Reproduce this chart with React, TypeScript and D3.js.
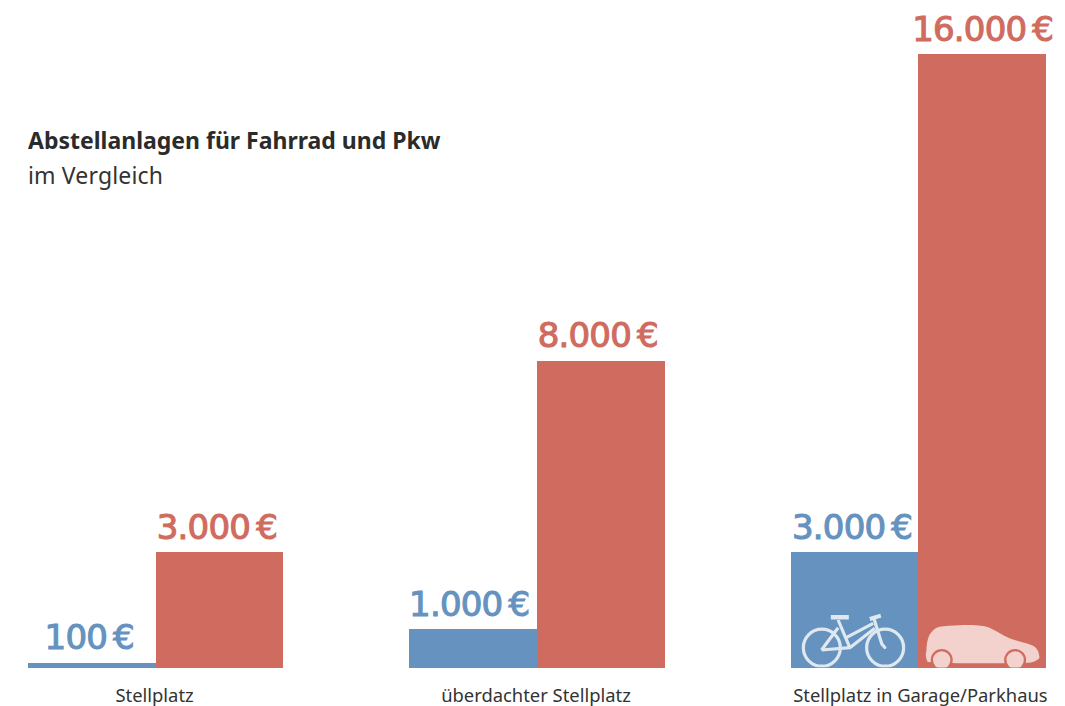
import React from 'react';
import * as d3 from 'd3';

const categories = ['Stellplatz', 'überdachter Stellplatz', 'Stellplatz in Garage/Parkhaus'];
const series = ['Fahrrad', 'Pkw'];
const fahrradValues = [100, 1000, 3000];
const pkwValues = [3000, 8000, 16000];
const title = 'Abstellanlagen für Fahrrad und Pkw';
const subtitle = 'im Vergleich';

const width = 1065;
const height = 706;
const baseline = 667.5;
const colors = { Fahrrad: '#6692bf', Pkw: '#d06b60' };
const font = '"Noto Sans", sans-serif';
const valueFont = '"DejaVu Sans", sans-serif';
const labelNudge = [-1, -1, 2];
const valueNudge = { Fahrrad: [-2.5, -4, -2.5], Pkw: [-2.5, -3, 0.5] };

const x0 = d3.scaleBand().domain(categories).range([28, 1046]).paddingInner(0.331);
const x1 = d3.scaleBand().domain(series).range([0, x0.bandwidth()]);
const y = d3.scaleLinear().domain([0, 16000]).range([baseline, 54]);

const fmt = (v: number) => d3.format(',')(v).replace(/,/g, '.');

const Bike = ({ x }: { x: number }) => (
  <g transform={`translate(${x},0)`} fill="none" stroke="#dde8f1" strokeWidth={3.2} clipPath="url(#ground)">
    <circle cx={31} cy={647.7} r={18.5} />
    <circle cx={94.3} cy={647.7} r={18.5} />
    <path d="M30.7 650 L47.3 627.7 M30.7 650 L59 647.7 M47.3 620 L59 647.7 L84 628.3 M54 638.3 L82.3 623.3" strokeLinejoin="round" />
    <path d="M83 618.3 L91 644 L94 647.5" strokeLinecap="round" strokeLinejoin="round" />
    <path d="M40 617.3 H58" strokeWidth={4.5} />
    <path d="M79 619 L90 615.7" strokeWidth={4} />
  </g>
);

const Car = ({ x }: { x: number }) => (
  <g transform={`translate(${x},0)`} clipPath="url(#ground)">
    <path
      d="M9.3 662 C7 657 7 654 8 651 C8 645 9 639 11 635 C14 630 18 627 23 626.5 C33 625.5 42 625 51 625 C60 625 66 626 71 627.7 C78 631 84 635 91 638.3 C97 640.5 103 642 108 643.3 C113 645 116 646 118 648.5 C120 651 121 655 121 658.3 C118 661 114 662.5 111 662.8 L80 663.3 L40 663.3 Z"
      fill="#f3d2ce"
    />
    <circle cx={23.3} cy={660} r={11} fill="#d06b60" />
    <circle cx={96.7} cy={660} r={11} fill="#d06b60" />
    <circle cx={23.3} cy={660} r={8.7} fill="#f3d2ce" />
    <circle cx={96.7} cy={660} r={8.7} fill="#f3d2ce" />
  </g>
);

const App = () => {
  const rows = categories.map((c, i) => ({ c, Fahrrad: fahrradValues[i], Pkw: pkwValues[i] }));
  return (
    <svg width={width} height={height} style={{ position: 'absolute', left: 0, top: 0, background: '#fff' }}>
      <defs>
        <clipPath id="ground">
          <rect x={-1000} y={0} width={3000} height={baseline} />
        </clipPath>
      </defs>
      <text x={28} y={149} fontFamily={font} fontSize={23} fontWeight={700} fill="#2b2b2b">{title}</text>
      <text x={28} y={184} fontFamily={font} fontSize={23} letterSpacing={0.15} fill="#333">{subtitle}</text>
      {rows.map((r, i) => (
        <g key={r.c}>
          {series.map(s => {
            const v = s === 'Fahrrad' ? r.Fahrrad : r.Pkw;
            const left = x0(r.c)! + x1(s)!;
            const color = colors[s as keyof typeof colors];
            // smallest bar stays visible, as in the original
            const top = Math.min(y(v), baseline - 5);
            return (
              <g key={s}>
                <rect x={left} y={top} width={x1.bandwidth()} height={baseline - top} fill={color} shapeRendering="crispEdges" />
                <text
                  x={left + x1.bandwidth() / 2 + valueNudge[s as keyof typeof valueNudge][i]}
                  y={top - 13.5}
                  textAnchor="middle"
                  fontFamily={valueFont}
                  fontSize={34}
                  letterSpacing={-0.8}
                  fill={color}
                  stroke={color}
                  strokeWidth={1.1}
                >
                  {fmt(v)}<tspan dx={6}>€</tspan>
                </text>
              </g>
            );
          })}
          <text x={x0(r.c)! + x0.bandwidth() / 2 + labelNudge[i]} y={701.5} textAnchor="middle" fontFamily={font} fontSize={18.4} fill="#333">{r.c}</text>
          {i === 2 && <Bike x={x0(r.c)! + x1('Fahrrad')!} />}
          {i === 2 && <Car x={x0(r.c)! + x1('Pkw')!} />}
        </g>
      ))}
    </svg>
  );
};

export default App;
